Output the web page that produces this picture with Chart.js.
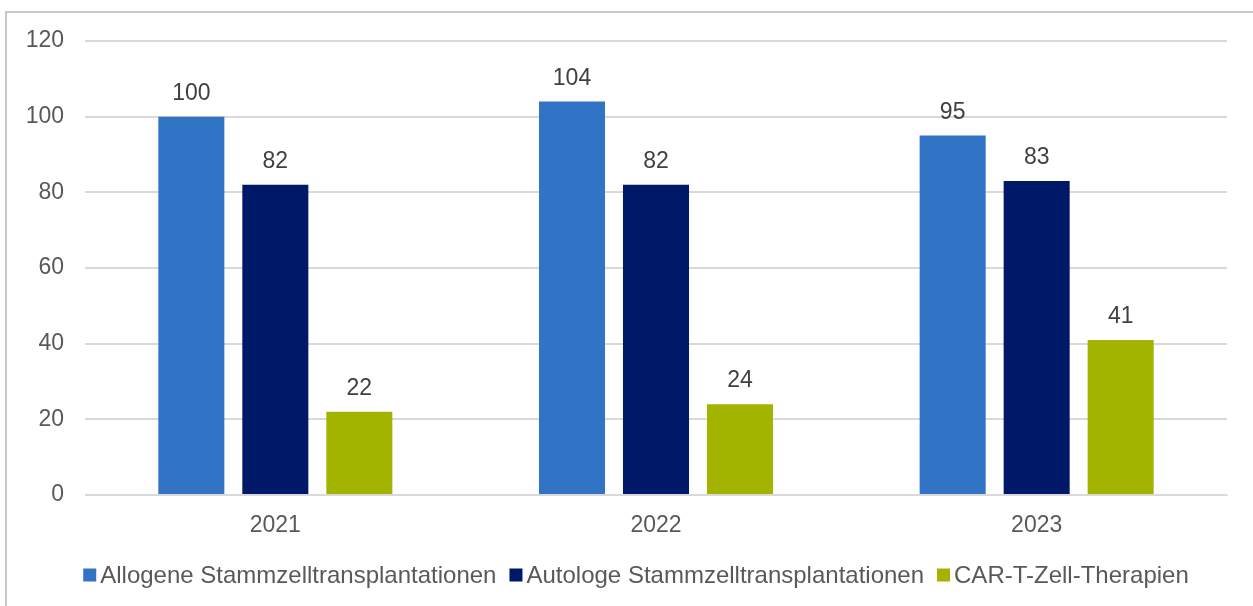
<!DOCTYPE html>
<html>
<head>
<meta charset="utf-8">
<script src="https://cdn.jsdelivr.net/npm/chart.js@4"></script>
<style>
  html, body { margin: 0; padding: 0; background: #fff; }
  #wrap { position: relative; width: 1253px; height: 606px; overflow: hidden; }
  #frame { position: absolute; left: 5px; top: 11px; width: 1300px; height: 700px; border: 2px solid #c8c8c8; box-sizing: border-box; }
  canvas { position: absolute; left: 0; top: 0; }
</style>
</head>
<body>
<div id="wrap">
  <div id="frame"></div>
  <canvas id="chart" width="1253" height="606"></canvas>
</div>
<script>
const years = ['2021', '2022', '2023'];
const allogene = [100, 104, 95];
const autologe = [82, 82, 83];
const carT = [22, 24, 41];
const yTicks = [0, 20, 40, 60, 80, 100, 120];

const textGrey = '#595959';
const fontFamily = '"Liberation Sans", Arial, sans-serif';

// value labels above each bar
const valueLabels = {
    id: 'valueLabels',
    afterDatasetsDraw(chart) {
        const ctx = chart.ctx;
        ctx.save();
        ctx.font = '23px ' + fontFamily;
        ctx.fillStyle = '#404040';
        ctx.textAlign = 'center';
        ctx.textBaseline = 'alphabetic';
        chart.data.datasets.forEach((ds, i) => {
            chart.getDatasetMeta(i).data.forEach((bar, j) => {
                ctx.fillText(ds.data[j], bar.x, bar.y - 17);
            });
        });
        ctx.restore();
    }
};

// legend with small squares and tight spacing, like the office original
const squareLegend = {
    id: 'squareLegend',
    afterDraw(chart) {
        const ctx = chart.ctx;
        const box = 13, gapText = 4, gapItem = 13, cy = 576;
        ctx.save();
        ctx.font = '24px ' + fontFamily;
        ctx.textBaseline = 'middle';
        ctx.textAlign = 'left';
        const items = chart.data.datasets.map(ds => ({ text: ds.label, color: ds.backgroundColor, w: ctx.measureText(ds.label).width }));
        let total = items.reduce((s, it) => s + box + gapText + it.w, 0) + gapItem * (items.length - 1);
        let x = 636 - total / 2;
        items.forEach(it => {
            ctx.fillStyle = it.color;
            ctx.fillRect(x, cy - box / 2 - 1, box, box);
            x += box + gapText;
            ctx.fillStyle = textGrey;
            ctx.fillText(it.text, x, cy);
            x += it.w + gapItem;
        });
        ctx.restore();
    }
};

new Chart(document.getElementById('chart'), {
    type: 'bar',
    data: {
        labels: years,
        datasets: [
            { label: 'Allogene Stammzelltransplantationen', data: allogene, backgroundColor: '#3173C4' },
            { label: 'Autologe Stammzelltransplantationen', data: autologe, backgroundColor: '#001868' },
            { label: 'CAR-T-Zell-Therapien', data: carT, backgroundColor: '#A2B400' }
        ]
    },
    options: {
        responsive: false,
        animation: false,
        devicePixelRatio: 1,
        categoryPercentage: 0.662,
        barPercentage: 0.786,
        layout: { padding: { top: 41, right: 26, left: 0, bottom: 0 } },
        plugins: {
            legend: { display: false },
            tooltip: { enabled: false }
        },
        scales: {
            x: {
                afterFit(axis) { axis.height = 111; },
                grid: { display: false },
                border: { color: '#d9d9d9' },
                ticks: {
                    color: textGrey,
                    padding: 9,
                    font: { family: fontFamily, size: 23 }
                }
            },
            y: {
                min: 0,
                max: 120,
                afterBuildTicks(axis) { axis.ticks = yTicks.map(v => ({ value: v })); },
                afterFit(axis) { axis.width = 85; },
                grid: { color: '#d9d9d9', lineWidth: 2, drawTicks: false },
                border: { display: false },
                ticks: {
                    color: textGrey,
                    padding: 21,
                    font: { family: fontFamily, size: 23 }
                }
            }
        }
    },
    plugins: [valueLabels, squareLegend]
});
</script>
</body>
</html>
